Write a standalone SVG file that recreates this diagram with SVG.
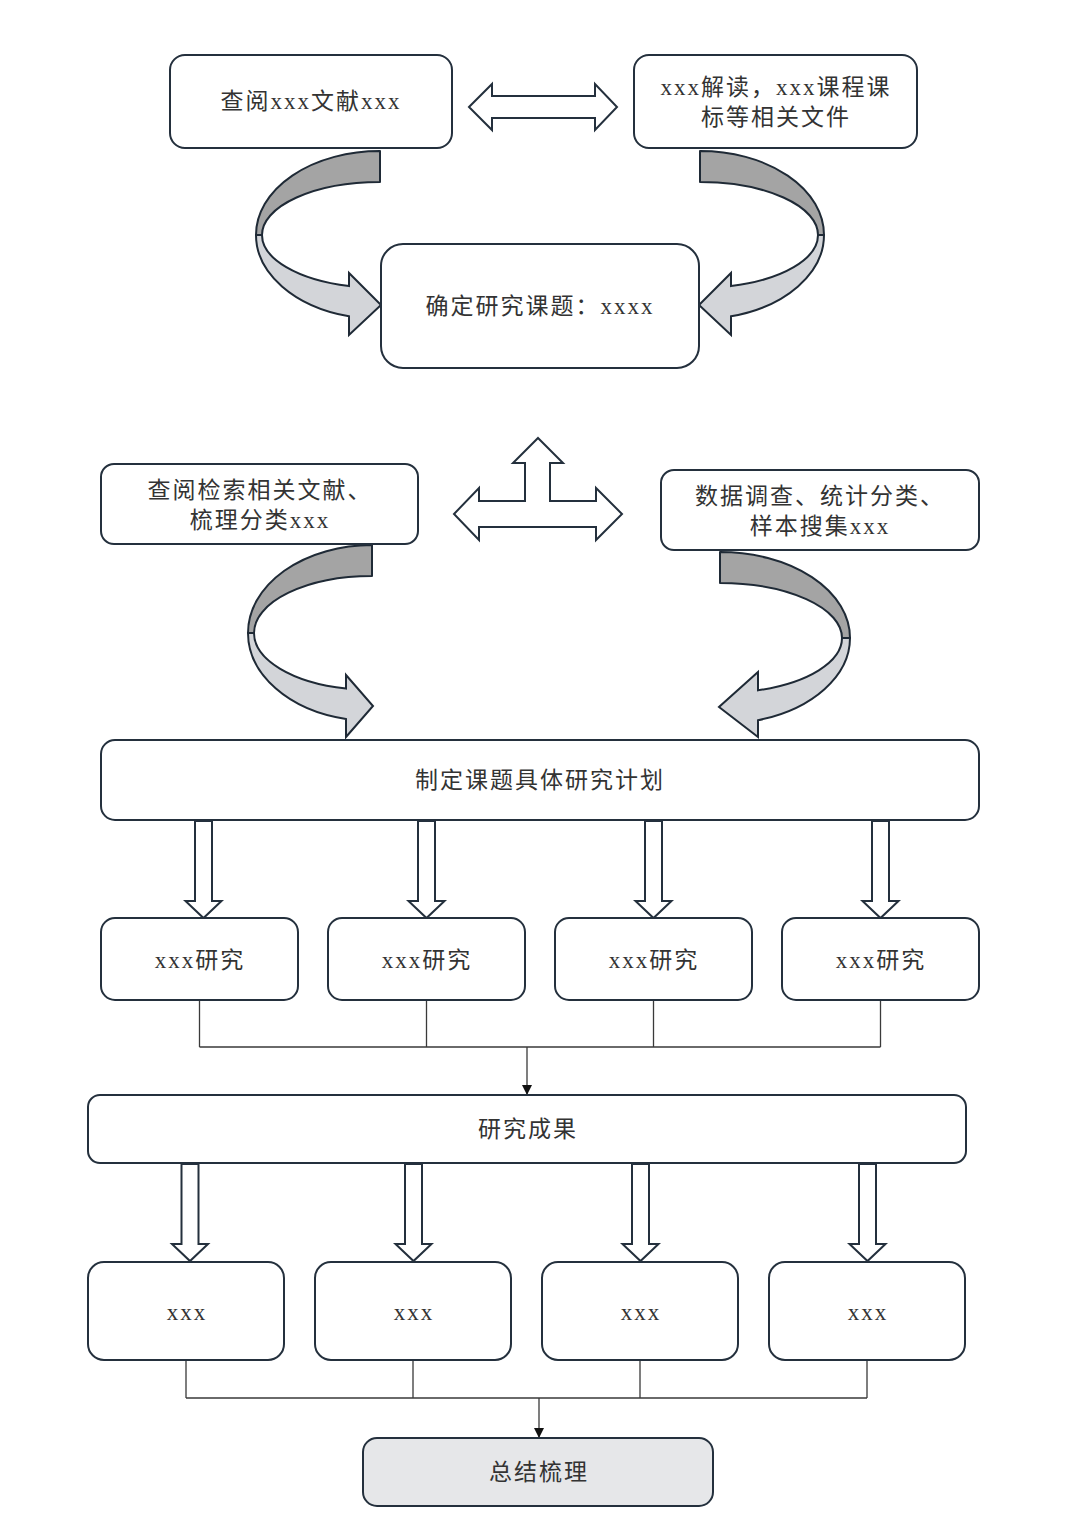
<svg xmlns="http://www.w3.org/2000/svg" xmlns:xlink="http://www.w3.org/1999/xlink" width="1080" height="1527" viewBox="0 0 1080 1527">
<style>
.box{fill:#ffffff;stroke:#24303d;stroke-width:2}
.grey{fill:#e6e7e9}
.t{font-family:"Liberation Serif","Noto Sans CJK SC",serif;font-size:23px;fill:#333333;text-anchor:middle;dominant-baseline:central;letter-spacing:2px}
.blk{fill:#ffffff;stroke:#24303d;stroke-width:2;stroke-linejoin:miter}
.back{fill:#a4a4a4;stroke:#1f2a36;stroke-width:2;stroke-linejoin:round}
.front{fill:#d3d5d9;stroke:#1f2a36;stroke-width:2;stroke-linejoin:miter}
.ln{fill:none;stroke:#3a3a3a;stroke-width:1.3}
</style>
<defs>
<marker id="ah" viewBox="0 0 10 10" refX="10" refY="5" markerWidth="10" markerHeight="10" markerUnits="userSpaceOnUse" orient="auto">
<path d="M0,0 L10,5 L0,10 Z" fill="#111111"/>
</marker>
<g id="curveA">
<path class="back" d="M380,151 A124,84 0 0 0 256,235 L262,235 A118,53 0 0 1 380,182 Z"/>
<path class="front" d="M256,235 A124,84 0 0 0 349,316.3 L349,335 L381,305 L349,273 L349,286.1 A118,53 0 0 1 262,235 Z"/>
</g>
</defs>

<g id="curved-arrows">
<use xlink:href="#curveA"/>
<use xlink:href="#curveA" transform="translate(1080,0) scale(-1,1)"/>
<path class="back" d="M372,545 A124,88 0 0 0 248,633 L254,633 A118,57 0 0 1 372,576 Z"/>
<path class="front" d="M248,633 A124,88 0 0 0 346,719 L346,737 L373,706 L346,675 L346,688.6 A118,57 0 0 1 254,633 Z"/>
<path class="back" d="M720,552 A130,86 0 0 1 850,638 L842,638 A122,55 0 0 0 720,583 Z"/>
<path class="front" d="M850,638 A130,86 0 0 1 758,720.2 L758,737 L719,707 L758,672 L758,690.3 A122,55 0 0 0 842,638 Z"/>
</g>

<g id="block-arrows">
<polygon class="blk" points="469,107 492,84 492,96 595,96 595,84 617,107 595,130 595,118 492,118 492,130"/>
<polygon class="blk" points="538,438 563,463 550,463 550,501 596,501 596,488 622,514 596,540 596,527 479,527 479,540 454,514 479,488 479,501 525,501 525,463 513,463"/>
<polygon class="blk" points="195,821 212,821 212,901 221.5,901 203.5,918 185.5,901 195,901"/>
<polygon class="blk" points="418,821 435,821 435,901 444.5,901 426.5,918 408.5,901 418,901"/>
<polygon class="blk" points="645,821 662,821 662,901 671.5,901 653.5,918 635.5,901 645,901"/>
<polygon class="blk" points="872,821 889,821 889,901 898.5,901 880.5,918 862.5,901 872,901"/>
<polygon class="blk" points="181.5,1164 198.5,1164 198.5,1244 208,1244 190,1261 172,1244 181.5,1244"/>
<polygon class="blk" points="405,1164 422,1164 422,1244 431.5,1244 413.5,1261 395.5,1244 405,1244"/>
<polygon class="blk" points="632,1164 649,1164 649,1244 658.5,1244 640.5,1261 622.5,1244 632,1244"/>
<polygon class="blk" points="859,1164 876,1164 876,1244 885.5,1244 867.5,1261 849.5,1244 859,1244"/>
</g>

<g id="connectors">
<path class="ln" d="M199.5,1001 V1047 M426.5,1001 V1047 M653.5,1001 V1047 M880.5,1001 V1047 M199.5,1047 H880.5"/>
<path class="ln" d="M527,1047 V1095" marker-end="url(#ah)"/>
<path class="ln" d="M186,1361 V1398 M413,1361 V1398 M640,1361 V1398 M867,1361 V1398 M186,1398 H867"/>
<path class="ln" d="M539,1398 V1438" marker-end="url(#ah)"/>
</g>

<g id="n-literature">
<rect class="box" x="170" y="55" width="282" height="93" rx="15"/>
<text class="t" x="311" y="101">查阅xxx文献xxx</text>
</g>
<g id="n-curriculum">
<rect class="box" x="634" y="55" width="283" height="93" rx="15"/>
<text class="t" x="776" y="87">xxx解读，xxx课程课</text>
<text class="t" x="776" y="117">标等相关文件</text>
</g>
<g id="n-topic">
<rect class="box" x="381" y="244" width="318" height="124" rx="22"/>
<text class="t" x="540" y="306">确定研究课题：xxxx</text>
</g>
<g id="n-search">
<rect class="box" x="101" y="464" width="317" height="80" rx="13"/>
<text class="t" x="260" y="490">查阅检索相关文献、</text>
<text class="t" x="260" y="520">梳理分类xxx</text>
</g>
<g id="n-data">
<rect class="box" x="661" y="470" width="318" height="80" rx="13"/>
<text class="t" x="820" y="496">数据调查、统计分类、</text>
<text class="t" x="820" y="526">样本搜集xxx</text>
</g>
<g id="n-plan">
<rect class="box" x="101" y="740" width="878" height="80" rx="14"/>
<text class="t" x="540" y="780">制定课题具体研究计划</text>
</g>
<g id="n-study1">
<rect class="box" x="101" y="918" width="197" height="82" rx="14"/>
<text class="t" x="200" y="960">xxx研究</text>
</g>
<g id="n-study2">
<rect class="box" x="328" y="918" width="197" height="82" rx="14"/>
<text class="t" x="427" y="960">xxx研究</text>
</g>
<g id="n-study3">
<rect class="box" x="555" y="918" width="197" height="82" rx="14"/>
<text class="t" x="654" y="960">xxx研究</text>
</g>
<g id="n-study4">
<rect class="box" x="782" y="918" width="197" height="82" rx="14"/>
<text class="t" x="881" y="960">xxx研究</text>
</g>
<g id="n-results">
<rect class="box" x="88" y="1095" width="878" height="68" rx="12"/>
<text class="t" x="528" y="1129">研究成果</text>
</g>
<g id="n-out1">
<rect class="box" x="88" y="1262" width="196" height="98" rx="16"/>
<text class="t" x="187" y="1312">xxx</text>
</g>
<g id="n-out2">
<rect class="box" x="315" y="1262" width="196" height="98" rx="16"/>
<text class="t" x="414" y="1312">xxx</text>
</g>
<g id="n-out3">
<rect class="box" x="542" y="1262" width="196" height="98" rx="16"/>
<text class="t" x="641" y="1312">xxx</text>
</g>
<g id="n-out4">
<rect class="box" x="769" y="1262" width="196" height="98" rx="16"/>
<text class="t" x="868" y="1312">xxx</text>
</g>
<g id="n-summary">
<rect class="box grey" x="363" y="1438" width="350" height="68" rx="14"/>
<text class="t" x="539" y="1472">总结梳理</text>
</g>
</svg>
